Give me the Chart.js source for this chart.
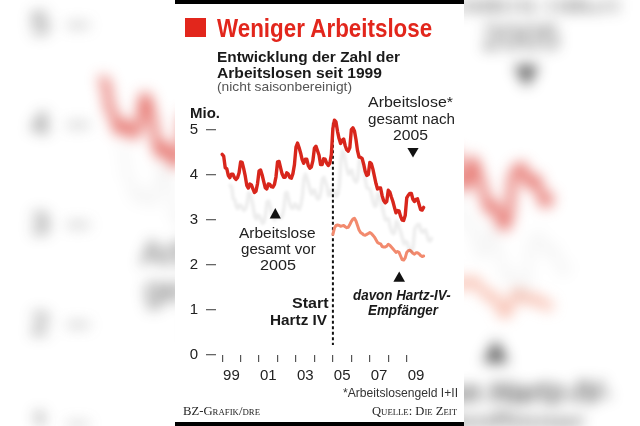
<!DOCTYPE html>
<html><head><meta charset="utf-8">
<script src="https://cdn.jsdelivr.net/npm/chart.js@4.4.1/dist/chart.umd.min.js"></script>
<style>
html,body{margin:0;padding:0;background:#fff;}
#stage{position:relative;width:640px;height:426px;overflow:hidden;background:#fff;}
#bg{position:absolute;left:0;top:0;z-index:0;}
#panel{position:absolute;left:175px;top:0;width:289px;height:426px;background:#fff;z-index:1;}
.bar{position:absolute;left:175px;width:289px;background:#000;z-index:2;}
#sq{position:absolute;left:185px;top:18px;width:21px;height:19px;background:#e2261c;z-index:2;}
#chartbox{position:absolute;left:0;top:0;width:640px;height:426px;z-index:3;}
.lbl{position:absolute;white-space:nowrap;transform-origin:0 0;z-index:4;margin:0;padding:0;}
</style></head>
<body><div id="stage">
<canvas id="bg" width="640" height="426"></canvas>
<div id="panel"></div>
<div class="bar" style="top:0;height:3.5px"></div>
<div class="bar" style="top:422px;height:4px"></div>
<div id="sq"></div>
<div id="chartbox"><canvas id="c" width="640" height="426"></canvas></div>
</div>
<script>
// ---------- DATA ----------
const firstYear = 1999;
const xTickLabels = ['99','01','03','05','07','09'];
const yTickValues = [0,1,2,3,4,5];
const hartzStartYear = 2005;
// Arbeitslose gesamt (Mio.), monthly Jan 1999 - Dec 2009
const arbeitslose = [
 4.46,4.42,4.16,4.14,3.99,3.94,4.02,4.02,3.94,3.90,3.94,4.05,
 4.29,4.28,4.14,3.98,3.77,3.71,3.80,3.78,3.69,3.61,3.64,3.81,
 4.09,4.11,4.00,3.86,3.72,3.69,3.80,3.79,3.74,3.73,3.79,3.96,
 4.29,4.30,4.16,4.02,3.95,3.95,4.05,4.02,3.94,3.93,4.03,4.23,
 4.62,4.71,4.61,4.49,4.34,4.26,4.35,4.35,4.21,4.15,4.18,4.32,
 4.60,4.64,4.54,4.44,4.23,4.23,4.36,4.35,4.26,4.21,4.26,4.46,
 5.04,5.22,5.18,4.97,4.81,4.70,4.77,4.80,4.65,4.56,4.53,4.61,
 5.01,5.05,4.98,4.79,4.54,4.40,4.39,4.37,4.24,4.08,3.99,4.01,
 4.28,4.25,4.13,3.97,3.81,3.69,3.71,3.71,3.54,3.43,3.38,3.41,
 3.66,3.62,3.51,3.41,3.28,3.16,3.21,3.20,3.08,3.00,2.99,3.10,
 3.49,3.55,3.59,3.59,3.46,3.41,3.46,3.47,3.35,3.23,3.22,3.28
];
// davon Hartz-IV-Empfänger (Mio.), monthly Jan 2005 - Dec 2009
const hartzIV = [
 2.68,2.82,2.88,2.89,2.88,2.86,2.87,2.88,2.85,2.83,2.84,2.90,
 2.97,3.02,3.04,2.98,2.88,2.78,2.72,2.70,2.67,2.66,2.68,2.70,
 2.72,2.70,2.66,2.62,2.56,2.50,2.48,2.47,2.41,2.40,2.40,2.42,
 2.46,2.44,2.40,2.36,2.32,2.28,2.30,2.28,2.20,2.12,2.11,2.16,
 2.28,2.32,2.33,2.30,2.26,2.24,2.27,2.27,2.25,2.21,2.19,2.20
];

// ---------- LAYOUT / STYLE ----------
const SANS = "'Liberation Sans Narrow','Liberation Sans',Arial,sans-serif";
const SERIF = "'Liberation Serif','Times New Roman',serif";
const RED = '#d8261c', SALMON = '#f28a6e', TITLE_RED = '#e2261c';
const textItems = [
 {t:'Weniger Arbeitslose', x:216.5, b:37, size:25, weight:'bold', color:TITLE_RED, align:'left', w:216},
 {t:'Entwicklung der Zahl der', x:216.5, b:61.5, size:15, weight:'bold', color:'#1a1a1a', align:'left', w:183},
 {t:'Arbeitslosen seit 1999', x:216.5, b:77.5, size:15, weight:'bold', color:'#1a1a1a', align:'left', w:165},
 {t:'(nicht saisonbereinigt)', x:216.5, b:91.5, size:13.5, color:'#555', align:'left', w:135},
 {t:'Mio.', x:190, b:118, size:14, weight:'bold', color:'#1a1a1a', align:'left', w:30},
 {t:'Arbeitslose*', x:410.8, b:107, size:15.5, color:'#222', align:'center', w:85},
 {t:'gesamt nach', x:411.2, b:124, size:15.5, color:'#222', align:'center', w:87},
 {t:'2005', x:410.5, b:140.5, size:15.5, color:'#222', align:'center', w:35},
 {t:'Arbeitslose', x:277.5, b:238, size:15.5, color:'#222', align:'center', w:76.5},
 {t:'gesamt vor', x:278.3, b:254.3, size:15.5, color:'#222', align:'center', w:74.7},
 {t:'2005', x:277.7, b:270.7, size:15.5, color:'#222', align:'center', w:36},
 {t:'Start', x:328.3, b:307.7, size:15, weight:'bold', color:'#1a1a1a', align:'right', w:36.6},
 {t:'Hartz IV', x:327, b:325, size:15, weight:'bold', color:'#1a1a1a', align:'right', w:57},
 {t:'davon Hartz-IV-', x:402.2, b:300, size:14, weight:'bold', style:'italic', color:'#1a1a1a', align:'center', w:97.7},
 {t:'Empfänger', x:403.3, b:314.5, size:14, weight:'bold', style:'italic', color:'#1a1a1a', align:'center', w:70},
 {t:'*Arbeitslosengeld I+II', x:458.3, b:397, size:13.5, color:'#333', align:'right', w:115},
 {t:'BZ-Grafik/dre', x:183.3, b:415, size:13, variant:'small-caps', family:SERIF, color:'#222', align:'left', w:77},
 {t:'Quelle: Die Zeit', x:456.7, b:415, size:13, variant:'small-caps', family:SERIF, color:'#222', align:'right', w:85}
];
const triangles = [
 {cx:275.3, top:208, bottom:218.5, half:5.6, up:true},
 {cx:413, top:148, bottom:157.5, half:5.6, up:false},
 {cx:399.2, top:271.5, bottom:281.7, half:5.8, up:true}
];
const BG_SCALE = 2.22, BG_TX = -390.5, BG_TY = -263;

// ---------- TEXT ----------
const mctx = document.createElement('canvas').getContext('2d');
function fontStr(it, withLH){
  const fam = it.family || SANS;
  return `${it.style||'normal'} ${it.variant||'normal'} ${it.weight||'normal'} ${it.size}px${withLH?'/'+it.size+'px':''} ${fam}`;
}
const placed = [];
const stage = document.getElementById('stage');
textItems.forEach(it=>{
  mctx.font = fontStr(it,false);
  const m = mctx.measureText(it.t);
  const sx = it.w / m.width;
  const A = m.fontBoundingBoxAscent, D = m.fontBoundingBoxDescent;
  const off = (it.size - (A + D)) / 2 + A;
  const left = it.align==='left' ? it.x : it.align==='center' ? it.x - it.w/2 : it.x - it.w;
  const d = document.createElement('div');
  d.className = 'lbl';
  d.textContent = it.t;
  d.style.font = fontStr(it,true);
  d.style.color = it.color;
  d.style.left = left + 'px';
  d.style.top = (it.b - off) + 'px';
  d.style.transform = `scaleX(${sx})`;
  stage.appendChild(d);
  placed.push({it, left, sx});
});

// ---------- CHART ----------
const monthsPerYear = 12;
const hartzOffset = (hartzStartYear - firstYear) * monthsPerYear;
const redPts = arbeitslose.map((v,i)=>({x:i, y:v}));
const hartzPts = hartzIV.map((v,i)=>({x:hartzOffset + i, y:v}));
const labelAt = {};
xTickLabels.forEach((l,j)=>{ labelAt[24*j + 6] = l; });
const lastMonth = arbeitslose.length;

let bgDone = false;
function drawBackground(src){
  const off = document.createElement('canvas');
  off.width = 640; off.height = 426;
  const o = off.getContext('2d');
  o.setTransform(BG_SCALE,0,0,BG_SCALE,BG_TX,BG_TY);
  o.drawImage(src,0,0);
  placed.forEach(p=>{
    o.save();
    o.font = fontStr(p.it,false);
    o.fillStyle = p.it.color;
    o.textBaseline = 'alphabetic';
    o.translate(p.left, p.it.b);
    o.scale(p.sx,1);
    o.fillText(p.it.t,0,0);
    o.restore();
  });
  const g = document.getElementById('bg').getContext('2d');
  g.fillStyle = '#fff'; g.fillRect(0,0,640,426);
  g.filter = 'blur(7px)';
  g.globalAlpha = 0.7;
  g.drawImage(off,0,0);
}

const decor = {
  id:'decor',
  beforeDatasetsDraw(chart){
    const {ctx, scales:{x,y}} = chart;
    const px = x.getPixelForValue(hartzOffset);
    ctx.save();
    ctx.strokeStyle = '#111';
    ctx.lineWidth = 2;
    ctx.setLineDash([3,2.5]);
    ctx.beginPath();
    ctx.moveTo(px, y.getPixelForValue(5.16));
    ctx.lineTo(px, y.getPixelForValue(0.22));
    ctx.stroke();
    ctx.restore();
  },
  beforeDatasetDraw(chart,args){
    if(args.index===0){
      const c = chart.ctx; c.save();
      c.shadowColor = 'rgba(0,0,0,0.075)';
      c.shadowOffsetX = 8; c.shadowOffsetY = 31; c.shadowBlur = 3;
    }
  },
  afterDatasetDraw(chart,args){ if(args.index===0) chart.ctx.restore(); },
  afterDraw(chart){
    const ctx = chart.ctx;
    ctx.save(); ctx.fillStyle = '#111';
    triangles.forEach(t=>{
      ctx.beginPath();
      if(t.up){ ctx.moveTo(t.cx,t.top); ctx.lineTo(t.cx+t.half,t.bottom); ctx.lineTo(t.cx-t.half,t.bottom); }
      else { ctx.moveTo(t.cx-t.half,t.top); ctx.lineTo(t.cx+t.half,t.top); ctx.lineTo(t.cx,t.bottom); }
      ctx.closePath(); ctx.fill();
    });
    ctx.restore();
  },
  afterRender(chart){ if(!bgDone){ bgDone = true; drawBackground(chart.canvas); } }
};

new Chart(document.getElementById('c'), {
  type:'line',
  data:{ datasets:[
    {label:'Arbeitslose gesamt', data:redPts, borderColor:RED, borderWidth:3.4, pointRadius:0, tension:0, borderJoinStyle:'round', borderCapStyle:'round', clip:false},
    {label:'davon Hartz-IV-Empfänger', data:hartzPts, borderColor:SALMON, borderWidth:3, pointRadius:0, tension:0, borderJoinStyle:'round', borderCapStyle:'round', clip:false}
  ]},
  options:{
    responsive:false, animation:false, devicePixelRatio:1,
    layout:{padding:{left:0, top:107.5, right:214.8, bottom:0}},
    plugins:{legend:{display:false}, tooltip:{enabled:false}},
    scales:{
      x:{type:'linear', min:-4, max:lastMonth,
        afterBuildTicks:s=>{ const t=[]; for(let v=0; v<lastMonth; v+=6) t.push({value:v}); s.ticks=t; },
        afterFit:s=>{ s.height = 71; },
        border:{display:false},
        grid:{drawOnChartArea:false, drawTicks:true, tickLength:7, lineWidth:1.2,
              color:c=> (c.tick && c.tick.value % 12 === 0) ? '#555' : 'rgba(0,0,0,0)'},
        ticks:{autoSkip:false, maxRotation:0, padding:5, color:'#222',
               font:{family:SANS, size:15},
               callback:v=> labelAt[v] !== undefined ? labelAt[v] : ''}
      },
      y:{min:0, max:5.5,
        afterBuildTicks:s=>{ s.ticks = yTickValues.map(v=>({value:v})); },
        afterFit:s=>{ s.width = 216; },
        border:{display:false},
        grid:{drawOnChartArea:false, drawTicks:true, tickLength:10, lineWidth:1.3, color:'#666'},
        ticks:{padding:8, color:'#222', font:{family:SANS, size:15}}
      }
    }
  },
  plugins:[decor]
});
</script>
</body></html>
